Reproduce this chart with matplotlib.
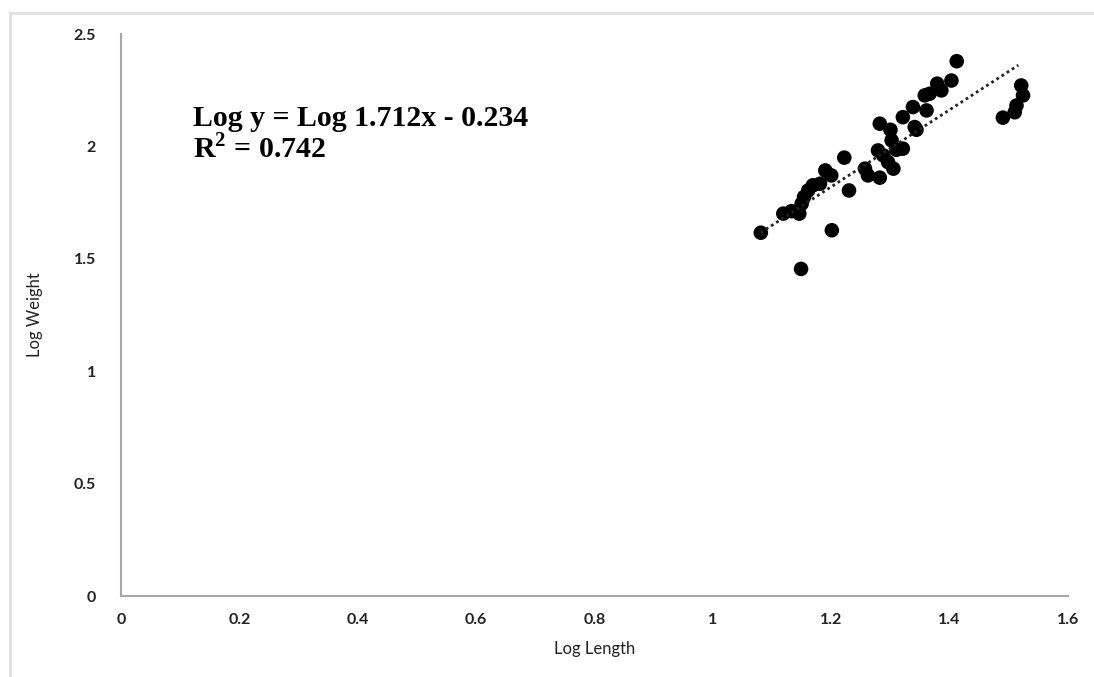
import matplotlib
matplotlib.use("Agg")
import matplotlib.pyplot as plt
from matplotlib.lines import Line2D
import numpy as np

plt.rcParams["mathtext.fontset"] = "custom"
plt.rcParams["mathtext.bf"] = "Liberation Serif:bold"
plt.rcParams["mathtext.rm"] = "Liberation Serif:bold"

log_length = [1.081, 1.149, 1.201, 1.119, 1.133, 1.146, 1.150, 1.154, 1.161, 1.169,
              1.181, 1.190, 1.200, 1.222, 1.230, 1.257, 1.262, 1.282, 1.279, 1.288,
              1.305, 1.296, 1.282, 1.300, 1.302, 1.321, 1.321, 1.338, 1.344, 1.361,
              1.358, 1.379, 1.386, 1.403, 1.412, 1.490, 1.510, 1.513, 1.524, 1.521,
              1.341, 1.366, 1.310]
log_weight = [1.616, 1.455, 1.627, 1.701, 1.712, 1.701, 1.745, 1.775, 1.804, 1.827,
              1.834, 1.893, 1.871, 1.950, 1.804, 1.901, 1.871, 1.861, 1.982, 1.960,
              1.901, 1.930, 2.101, 2.074, 2.027, 1.990, 2.130, 2.175, 2.074, 2.160,
              2.227, 2.279, 2.249, 2.293, 2.379, 2.128, 2.152, 2.182, 2.227, 2.271,
              2.086, 2.234, 1.985]

slope = 1.712
intercept = -0.234
x_ticks = [0, 0.2, 0.4, 0.6, 0.8, 1, 1.2, 1.4, 1.6]
y_ticks = [0, 0.5, 1, 1.5, 2, 2.5]

fig = plt.figure(figsize=(10.94, 6.77), dpi=100)
fig.patch.set_facecolor("white")
ax = fig.add_axes([121/1094, 1-596/677, (1068-121)/1094, (596-34)/677])

ax.scatter(log_length, log_weight, s=110, color="black", edgecolors="none", zorder=3)

xl = np.array([min(log_length), 1.516])
ax.plot(xl, slope*xl + intercept, linestyle=(0, (1, 1.2)), color="#222222", lw=2.0, zorder=4)

ax.set_xlim(0, 1.6)
ax.set_ylim(0, 2.5)
ax.set_xticks(x_ticks)
ax.set_yticks(y_ticks)
ax.set_xticklabels([f"{t:g}" for t in x_ticks])
ax.set_yticklabels([f"{t:g}" for t in y_ticks])
ax.tick_params(length=0, labelsize=11.5, pad=12)
for lab in ax.get_xticklabels() + ax.get_yticklabels():
    lab.set_fontfamily("Lato")
    lab.set_fontweight("bold")
    lab.set_color("#222222")
ax.tick_params(axis="y", pad=18)

for s in ["top", "right"]:
    ax.spines[s].set_visible(False)
for s in ["left", "bottom"]:
    ax.spines[s].set_color("#a6a6a6")
    ax.spines[s].set_linewidth(1.5)

ax.set_xlabel("Log Length", fontfamily="Lato", fontsize=12, color="#222222", labelpad=10)
ax.set_ylabel("Log Weight", fontfamily="Lato", fontsize=12, color="#222222", labelpad=22)

ax.text(193/1094, 1-118/677, "Log y = Log 1.712x - 0.234", transform=fig.transFigure,
        fontsize=21.5, fontweight="bold", fontfamily="Liberation Serif", va="center", ha="left")
ax.text(193/1094, 1-149/677, r"R$^{\mathbf{2}}$ = 0.742", transform=fig.transFigure,
        fontsize=21.5, fontweight="bold", fontfamily="Liberation Serif", va="center", ha="left")

fig.add_artist(Line2D([10/1094, 10/1094], [0, 1-13/677], transform=fig.transFigure,
                      color="#e0e0e0", lw=2))
fig.add_artist(Line2D([10/1094, 1], [1-13/677, 1-13/677], transform=fig.transFigure,
                      color="#e0e0e0", lw=2))

fig.savefig("out.png", dpi=100, facecolor="white")
